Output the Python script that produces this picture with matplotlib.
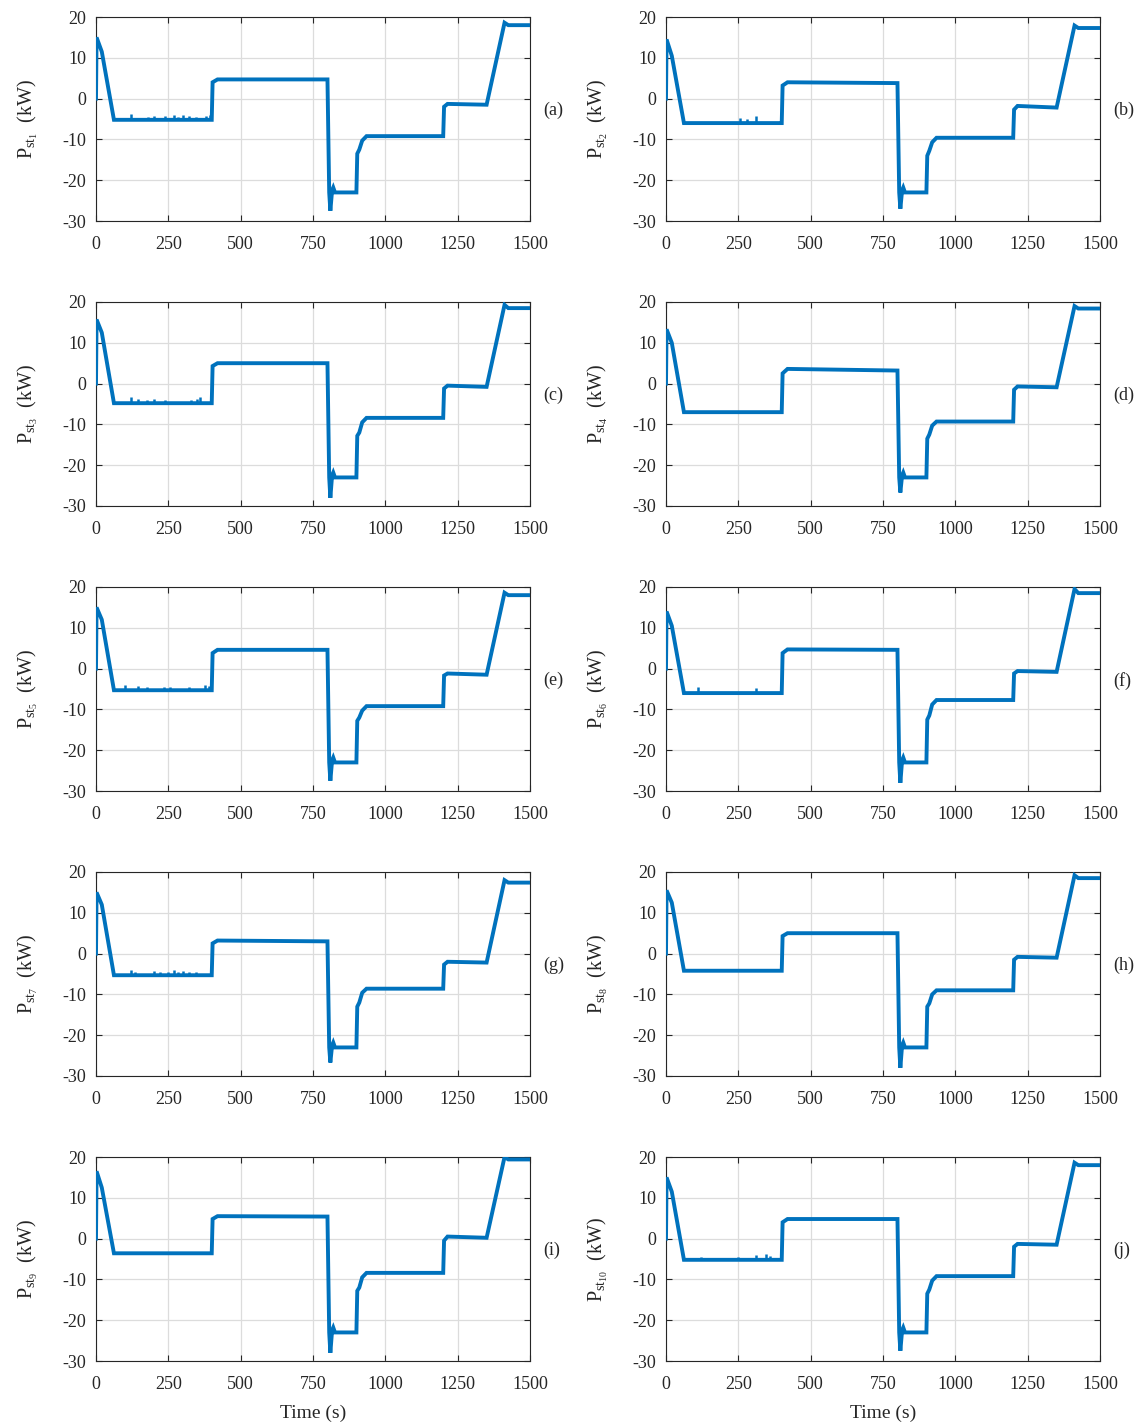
import matplotlib
matplotlib.use("Agg")
import matplotlib.pyplot as plt

plt.rcParams['font.family'] = ['Liberation Serif', 'DejaVu Serif']
plt.rcParams['mathtext.fontset'] = 'custom'
plt.rcParams['mathtext.rm'] = 'Liberation Serif'
plt.rcParams['mathtext.it'] = 'Liberation Serif:italic'
plt.rcParams['axes.unicode_minus'] = False

# ---------------- data ----------------
panel_labels = ['(a)', '(b)', '(c)', '(d)', '(e)', '(f)', '(g)', '(h)', '(i)', '(j)']
xticks = [0, 250, 500, 750, 1000, 1250, 1500]
yticks = [-30, -20, -10, 0, 10, 20]

# common time breakpoints of the power profiles (s)
time_s = [0, 2, 20, 62, 400, 403, 420, 800, 806, 810, 816, 820, 826, 900, 903,
          910, 920, 935, 1200, 1203, 1215, 1350, 1412, 1425, 1500]

# power values (kW) at the breakpoints, one list per station
p_st1 = [0, 15.0, 11.5, -5.2, -5.2, 4.0, 4.7, 4.7, -23.0, -27.5, -22.5, -21.8, -23.0, -23.0, -13.5,
         -12.5, -10.3, -9.2, -9.2, -2.0, -1.3, -1.5, 18.6, 18.0, 18.0]
p_st2 = [0, 14.5, 10.5, -6.0, -6.0, 3.2, 4.0, 3.8, -23.0, -27.0, -22.5, -21.8, -23.0, -23.0, -14.0,
         -12.8, -10.7, -9.6, -9.6, -2.7, -1.8, -2.2, 17.9, 17.3, 17.3]
p_st3 = [0, 15.7, 12.5, -4.8, -4.8, 4.3, 5.0, 5.0, -23.0, -28.0, -22.5, -21.8, -23.0, -23.0, -12.8,
         -12.0, -9.5, -8.4, -8.4, -1.2, -0.5, -0.8, 19.3, 18.5, 18.5]
p_st4 = [0, 13.3, 10.0, -7.0, -7.0, 2.5, 3.6, 3.2, -23.0, -26.7, -22.5, -21.8, -23.0, -23.0, -13.5,
         -12.5, -10.3, -9.3, -9.3, -1.5, -0.7, -0.9, 19.0, 18.4, 18.4]
p_st5 = [0, 15.0, 12.0, -5.3, -5.3, 3.8, 4.6, 4.6, -23.0, -27.5, -22.5, -21.8, -23.0, -23.0, -12.8,
         -12.0, -10.3, -9.2, -9.2, -1.7, -1.2, -1.5, 18.6, 18.0, 18.0]
p_st6 = [0, 14.0, 10.5, -6.0, -6.0, 3.8, 4.7, 4.6, -23.0, -28.0, -22.5, -21.8, -23.0, -23.0, -12.5,
         -11.5, -8.8, -7.7, -7.7, -1.2, -0.6, -0.8, 19.5, 18.5, 18.5]
p_st7 = [0, 15.0, 12.0, -5.3, -5.3, 2.5, 3.2, 3.0, -23.0, -26.7, -22.5, -21.8, -23.0, -23.0, -13.0,
         -12.0, -9.6, -8.6, -8.6, -2.7, -2.0, -2.2, 18.0, 17.4, 17.4]
p_st8 = [0, 15.5, 12.5, -4.2, -4.2, 4.3, 5.0, 5.0, -23.0, -28.0, -22.5, -21.8, -23.0, -23.0, -13.0,
         -12.2, -10.0, -9.0, -9.0, -1.5, -0.8, -1.0, 19.2, 18.5, 18.5]
p_st9 = [0, 16.5, 12.5, -3.6, -3.6, 4.8, 5.5, 5.4, -23.0, -28.0, -22.5, -21.8, -23.0, -23.0, -12.8,
         -12.0, -9.5, -8.4, -8.4, -0.5, 0.5, 0.2, 20.0, 19.4, 19.4]
p_st10 = [0, 15.0, 11.5, -5.2, -5.2, 4.0, 4.8, 4.8, -23.0, -27.5, -22.5, -21.8, -23.0, -23.0, -13.5,
          -12.5, -10.3, -9.2, -9.2, -2.0, -1.3, -1.5, 18.6, 18.0, 18.0]
powers = [p_st1, p_st2, p_st3, p_st4, p_st5, p_st6, p_st7, p_st8, p_st9, p_st10]

# short upward spikes on the first plateau: times (s) and heights (kW)
spike_t = [
    [120, 180, 200, 240, 270, 285, 300, 320, 345, 380, 395],
    [255, 280, 310, 395],
    [120, 145, 175, 200, 240, 330, 350, 360],
    [],
    [100, 145, 175, 235, 255, 320, 375, 390],
    [110, 310],
    [120, 135, 200, 220, 250, 270, 285, 300, 320, 345],
    [],
    [],
    [120, 250, 310, 345, 360],
]
spike_h = [
    [1.5, 0.8, 1.0, 0.9, 1.3, 0.8, 1.1, 0.9, 0.8, 1.0, 1.3],
    [1.3, 1.0, 1.8, 0.6],
    [1.4, 1.1, 0.9, 1.0, 0.7, 0.9, 1.1, 1.4],
    [],
    [1.2, 1.1, 0.8, 0.9, 0.8, 0.8, 1.3, 1.0],
    [1.6, 1.2],
    [1.2, 0.8, 1.0, 0.8, 0.9, 1.2, 0.9, 1.0, 0.9, 0.9],
    [],
    [],
    [0.8, 0.7, 1.2, 1.5, 1.0],
]

# ---------------- layout ----------------
W, H = 1137, 1427
fig = plt.figure(figsize=(W / 100, H / 100), dpi=100)

col_left_px = [96, 666]
ax_w_px = 434
row_top_px = [17, 302, 587, 872, 1157]
ax_h_px = 204

line_color = '#0072BD'
fs = 13

for i in range(10):
    r, c = divmod(i, 2)
    left = col_left_px[c] / W
    bottom = 1 - (row_top_px[r] + ax_h_px) / H
    ax = fig.add_axes([left, bottom, ax_w_px / W, ax_h_px / H])
    ax.plot(time_s, powers[i], color=line_color, lw=2.8, solid_joinstyle='miter', zorder=3)
    flat = powers[i][3]
    if spike_t[i]:
        ax.vlines(spike_t[i], [flat] * len(spike_t[i]),
                  [flat + h for h in spike_h[i]], color=line_color, lw=1.8, zorder=3)
    ax.set_xlim(0, 1500)
    ax.set_ylim(-30, 20)
    ax.set_xticks(xticks)
    ax.set_yticks(yticks)
    ax.grid(True, color='#DCDCDC', lw=0.9)
    ax.set_axisbelow(True)
    ax.tick_params(direction='in', length=4, width=0.8, top=True, right=True,
                   labelsize=fs, colors='#262626')
    ax.tick_params(axis='x', pad=11)
    ax.tick_params(axis='y', pad=7)
    for s in ax.spines.values():
        s.set_color('#262626')
        s.set_linewidth(0.8)
    ax.set_ylabel(r'$\mathrm{P_{st_{%d}}}$  (kW)' % (i + 1), fontsize=fs + 1.5,
                  color='#262626', labelpad=16)
    ax.text(1.03, 0.54, panel_labels[i], transform=ax.transAxes, ha='left', va='center',
            fontsize=fs, color='#262626')
    if r == 4:
        ax.set_xlabel('Time (s)', fontsize=fs + 1.0, color='#262626', labelpad=8)

fig.savefig('out.png', dpi=100)
